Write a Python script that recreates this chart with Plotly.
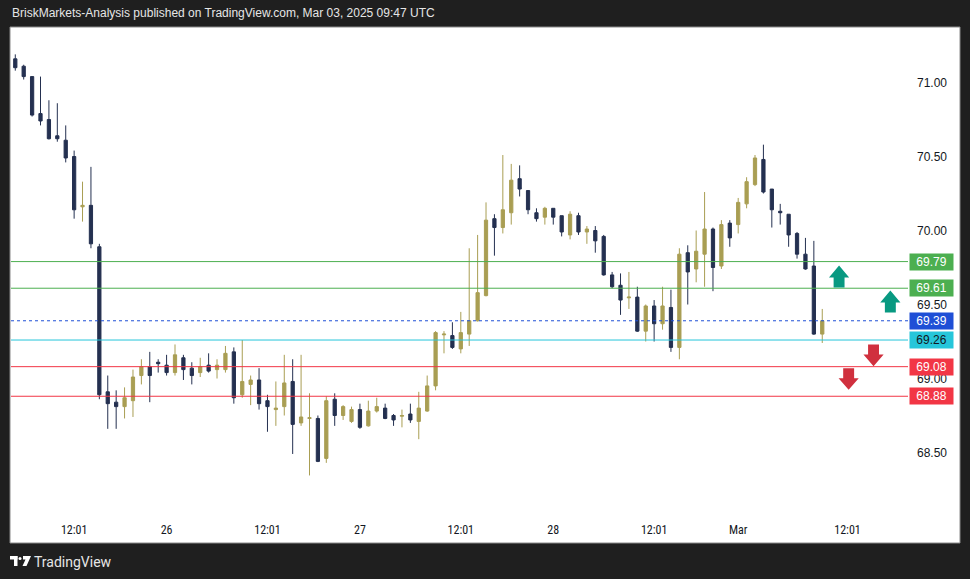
import plotly.graph_objects as go

# ---------------- data ----------------
candle_index = list(range(97))
open_ = [71.16, 71.11, 71.04, 70.79, 70.75, 70.64, 70.61, 70.50, 70.16, 70.17,
         69.89, 68.91, 68.84, 68.81, 68.85, 69.02, 69.08, 69.11, 69.09, 69.04,
         69.14, 69.07, 69.04, 69.09, 69.06, 69.06, 69.18, 68.89, 68.96, 68.99,
         68.85, 68.79, 68.81, 68.98, 68.70, 68.73, 68.73, 68.46, 68.86, 68.75,
         68.71, 68.79, 68.68, 68.78, 68.80, 68.75, 68.745, 68.76, 68.71, 68.78,
         68.95, 69.295, 69.29, 69.20, 69.30, 69.39, 69.56, 70.08, 70.02, 70.12,
         70.35, 70.27, 70.12, 70.09, 70.15, 70.10, 69.97, 70.10, 69.99, 70.00,
         69.96, 69.70, 69.63, 69.545, 69.55, 69.32, 69.49, 69.37, 69.48, 69.21,
         69.85, 69.74, 69.84, 70.01, 69.76, 70.05, 70.04, 70.18, 70.31, 70.48,
         70.28, 70.13, 70.11, 69.98, 69.84, 69.76, 69.30]
high = [71.19, 71.12, 71.04, 71.04, 70.88, 70.86, 70.71, 70.54, 70.33, 70.43,
        69.91, 69.02, 68.92, 68.94, 69.06, 69.13, 69.18, 69.13, 69.16, 69.23,
        69.16, 69.11, 69.14, 69.17, 69.13, 69.22, 69.21, 69.26, 69.02, 69.07,
        68.89, 68.98, 69.16, 69.13, 69.16, 68.90, 68.75, 68.88, 68.90, 68.82,
        68.81, 68.83, 68.85, 68.87, 68.83, 68.76, 68.79, 68.83, 68.91, 69.02,
        69.32, 69.32, 69.38, 69.45, 69.88, 69.97, 70.19, 70.11, 70.51, 70.45,
        70.44, 70.27, 70.15, 70.16, 70.15, 70.10, 70.13, 70.12, 70.03, 70.03,
        69.97, 69.72, 69.71, 69.72, 69.62, 69.50, 69.53, 69.62, 69.60, 69.88,
        69.90, 70.00, 70.26, 70.02, 70.07, 70.07, 70.22, 70.36, 70.51, 70.58,
        70.28, 70.18, 70.11, 69.99, 69.95, 69.93, 69.47]
low = [71.08, 71.02, 70.77, 70.71, 70.615, 70.60, 70.46, 70.08, 70.06, 69.88,
       68.86, 68.66, 68.66, 68.73, 68.74, 68.96, 68.84, 69.04, 69.02, 69.02,
       68.99, 68.96, 69.01, 69.04, 69.00, 69.04, 68.83, 68.87, 68.82, 68.79,
       68.64, 68.68, 68.75, 68.49, 68.68, 68.345, 68.435, 68.43, 68.68, 68.72,
       68.70, 68.66, 68.675, 68.77, 68.725, 68.68, 68.67, 68.70, 68.59, 68.775,
       68.92, 69.17, 69.20, 69.17, 69.22, 69.385, 69.555, 69.83, 69.98, 70.04,
       70.23, 70.11, 70.06, 70.04, 70.04, 69.96, 69.94, 69.97, 69.91, 69.85,
       69.695, 69.61, 69.43, 69.47, 69.315, 69.25, 69.25, 69.33, 69.18, 69.13,
       69.50, 69.65, 69.62, 69.59, 69.74, 69.89, 69.98, 70.15, 70.30, 70.25,
       70.02, 70.04, 69.89, 69.81, 69.735, 69.295, 69.24]
close = [71.10, 71.04, 70.78, 70.74, 70.62, 70.62, 70.49, 70.14, 70.17, 69.91,
         68.89, 68.83, 68.81, 68.87, 69.01, 69.08, 69.02, 69.10, 69.04, 69.16,
         69.06, 69.02, 69.08, 69.05, 69.09, 69.17, 68.87, 68.98, 68.99, 68.83,
         68.81, 68.80, 68.97, 68.69, 68.74, 68.735, 68.44, 68.85, 68.75, 68.81,
         68.79, 68.67, 68.78, 68.81, 68.73, 68.72, 68.75, 68.72, 68.80, 68.95,
         69.31, 69.30, 69.21, 69.31, 69.39, 69.58, 70.07, 70.02, 70.14, 70.34,
         70.28, 70.14, 70.08, 70.15, 70.09, 69.99, 70.11, 69.99, 70.01, 69.93,
         69.70, 69.62, 69.53, 69.55, 69.32, 69.49, 69.37, 69.49, 69.21, 69.84,
         69.72, 69.86, 70.01, 69.75, 70.04, 69.95, 70.19, 70.33, 70.49, 70.26,
         70.14, 70.12, 69.97, 69.84, 69.74, 69.30, 69.39]

x_tick_positions = [7, 18, 30, 41, 53, 64, 76, 86, 99]
x_tick_labels = ["12:01", "26", "12:01", "27", "12:01", "28", "12:01", "Mar", "12:01"]
y_tick_values = [68.5, 69.0, 69.5, 70.0, 70.5, 71.0]

level_prices = [69.79, 69.61, 69.39, 69.26, 69.08, 68.88]
level_colors = ["#4caf50", "#4caf50", "#1f4fd6", "#26c6da", "#f23645", "#f23645"]
level_dash = ["solid", "solid", "dot", "solid", "solid", "solid"]
level_text_colors = ["white", "white", "white", "#131722", "white", "white"]

# arrows drawn on chart: (center index, start price, head-base price, tip price, colour)
arrow_center = [98.0, 104.1, 102.1, 99.14]
arrow_start = [69.615, 69.446, 69.230, 69.070]
arrow_base = [69.682, 69.514, 69.162, 69.002]
arrow_tip = [69.764, 69.595, 69.083, 68.924]
arrow_colors = ["#089981", "#089981", "#d0303e", "#d0303e"]

BULL = "#a99e53"
BEAR = "#243050"
BG = "#1f1f1f"

# ---------------- layout geometry ----------------
W, H = 970, 579
ML, MR, MT, MB = 11, 62, 27, 63
PW = W - ML - MR
PH = H - MT - MB
HALF_PX = 0.5 / 148.0


def px(xpix):
    return (xpix - ML) / PW


def py(ypix):
    return (H - MB - ypix) / PH


fig = go.Figure()
fig.add_trace(go.Candlestick(
    x=candle_index, open=open_, high=high, low=low, close=close,
    increasing=dict(line=dict(color=BULL, width=1), fillcolor=BULL),
    decreasing=dict(line=dict(color=BEAR, width=1), fillcolor=BEAR),
    whiskerwidth=0, showlegend=False, hoverinfo="skip",
))

shapes = []
# white chart frame
shapes.append(dict(type="rect", xref="paper", yref="paper", layer="below",
                   x0=px(10), x1=px(960), y0=py(543), y1=py(27),
                   fillcolor="white", line=dict(color="#8a8a8a", width=1)))

for p, c, d in zip(level_prices, level_colors, level_dash):
    shapes.append(dict(type="line", xref="paper", yref="y", x0=0, x1=1, y0=p, y1=p,
                       line=dict(color=c, width=1, dash=d)))

stem_half = 0.65
head_half = 1.2
for cx, s, b, t, c in zip(arrow_center, arrow_start, arrow_base, arrow_tip, arrow_colors):
    path = (f"M {cx - stem_half} {s} L {cx - stem_half} {b} L {cx - head_half} {b} "
            f"L {cx} {t} L {cx + head_half} {b} L {cx + stem_half} {b} L {cx + stem_half} {s} Z")
    shapes.append(dict(type="path", xref="x", yref="y", path=path,
                       fillcolor=c, line=dict(width=0)))

# TradingView logo icon (small shapes)
shapes.append(dict(type="rect", xref="paper", yref="paper", x0=px(10), x1=px(17.5),
                   y0=py(559.5), y1=py(556), fillcolor="white", line=dict(width=0)))
shapes.append(dict(type="rect", xref="paper", yref="paper", x0=px(14), x1=px(17.5),
                   y0=py(566), y1=py(556), fillcolor="white", line=dict(width=0)))
shapes.append(dict(type="circle", xref="paper", yref="paper", x0=px(18.5), x1=px(21.5),
                   y0=py(560), y1=py(557), fillcolor="white", line=dict(width=0)))
shapes.append(dict(type="path", xref="paper", yref="paper",
                   path=(f"M {px(23)} {py(556)} L {px(31)} {py(556)} L {px(26.5)} {py(566)} "
                         f"L {px(22.5)} {py(566)} L {px(25.5)} {py(559.5)} L {px(23)} {py(559.5)} Z"),
                   fillcolor="white", line=dict(width=0)))

annotations = []
for p, c, tc in zip(level_prices, level_colors, level_text_colors):
    annotations.append(dict(xref="paper", yref="y", x=px(909), y=p, xanchor="left",
                            yanchor="middle", text=f"{p:.2f}", showarrow=False,
                            bgcolor=c, width=43, height=16, borderpad=0, align="center",
                            font=dict(family="Liberation Sans, Arial, sans-serif",
                                      size=12, color=tc)))

annotations.append(dict(xref="paper", yref="paper", x=px(10), y=py(13), xanchor="left",
                        yanchor="middle", showarrow=False,
                        text="BriskMarkets-Analysis published on TradingView.com, Mar 03, 2025 09:47 UTC",
                        font=dict(family="Liberation Sans, Arial, sans-serif", size=12,
                                  color="#e6e6e6")))
annotations.append(dict(xref="paper", yref="paper", x=px(32), y=py(561.5), xanchor="left",
                        yanchor="middle", showarrow=False, text="TradingView",
                        font=dict(family="Roboto, Liberation Sans, sans-serif", size=14,
                                  color="#e6e6e6")))

fig.update_layout(
    width=W, height=H,
    margin=dict(l=ML, r=MR, t=MT, b=MB),
    paper_bgcolor=BG, plot_bgcolor="white",
    boxgap=0.45,
    shapes=shapes, annotations=annotations,
    showlegend=False,
    xaxis=dict(range=[-0.51, 106.2], tickmode="array", tickvals=x_tick_positions,
               ticktext=x_tick_labels, showgrid=False, zeroline=False, showline=False,
               ticks="", ticklabelstandoff=5,
               tickfont=dict(family="Roboto Condensed, Roboto, sans-serif", size=12,
                             color="#131722"),
               rangeslider=dict(visible=False), fixedrange=True),
    yaxis=dict(range=[68.0676 + HALF_PX, 71.3716 + HALF_PX], side="right", tickmode="array",
               tickvals=y_tick_values, tickformat=".2f", showgrid=False, zeroline=False,
               showline=False, ticks="", ticklabelstandoff=8,
               tickfont=dict(family="Liberation Sans, Arial, sans-serif", size=12,
                             color="#131722"), fixedrange=True),
)

fig.write_html("out.html", config={"displayModeBar": False},
               post_script="document.body.style.margin='0px';document.body.style.background='#1f1f1f';")
